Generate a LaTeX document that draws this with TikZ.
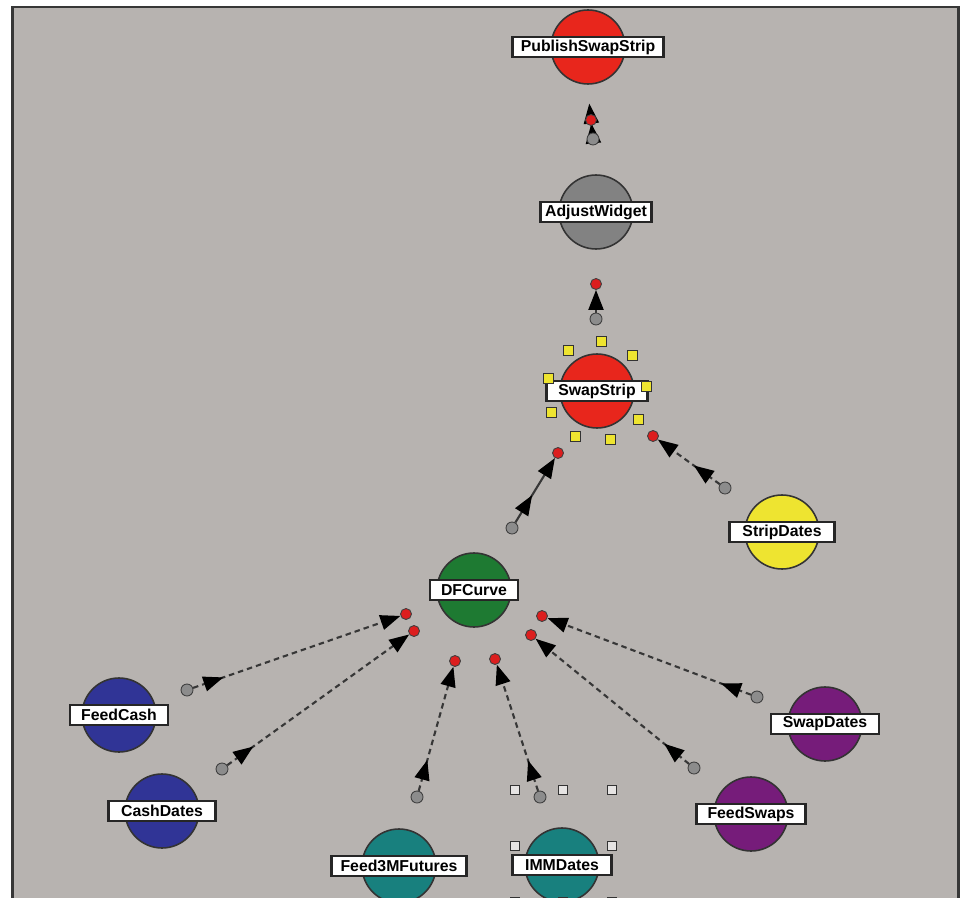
\documentclass[tikz,border=0pt]{standalone}
\usepackage{fontspec}
\setmainfont{Liberation Sans}
\usetikzlibrary{arrows.meta}
\usetikzlibrary{decorations.markings}
\definecolor{canvas}{RGB}{183,179,176}
\definecolor{frame}{RGB}{55,55,55}
\definecolor{task red}{RGB}{232,38,28}
\definecolor{task gray}{RGB}{130,130,130}
\definecolor{task green}{RGB}{30,122,50}
\definecolor{task yellow}{RGB}{238,228,48}
\definecolor{task blue}{RGB}{48,52,150}
\definecolor{task teal}{RGB}{24,128,126}
\definecolor{task purple}{RGB}{118,28,122}
\definecolor{port red}{RGB}{220,30,30}
\definecolor{port gray}{RGB}{140,140,140}
\definecolor{wire}{RGB}{55,55,55}
\pgfdeclarelayer{back}
\pgfdeclarelayer{wires}
\pgfsetlayers{back,wires,main}
\tikzstyle{task}=[circle, draw=black!80, line width=0.9pt, minimum size=1.48cm, inner sep=0]
\tikzstyle{caption}=[draw=black!85, line width=1.3pt, fill=white, minimum height=0.39cm, inner sep=0, font=\bfseries\fontsize{9}{10}\selectfont]
\tikzstyle{in port}=[circle, draw=black!75, line width=0.5pt, fill=port red, minimum size=0.22cm, inner sep=0]
\tikzstyle{out port}=[circle, draw=black!75, line width=0.5pt, fill=port gray, minimum size=0.24cm, inner sep=0]
\tikzstyle{handle}=[draw=black!80, line width=0.5pt, fill=task yellow, minimum size=0.2cm, inner sep=0]
\tikzstyle{hollow handle}=[draw=black!80, line width=0.8pt, fill=white!65!canvas, minimum size=0.18cm, inner sep=0]
\tikzstyle{link}=[draw=wire, line width=1.2pt, dash pattern=on 0.11cm off 0.08cm,
  -{Triangle[length=0.4cm, width=0.3cm, color=black]},
  postaction={decorate}, decoration={markings, mark=at position 0.64cm with {\arrow{Triangle[length=0.4cm, width=0.3cm, color=black]}}}]
\tikzstyle{solid link}=[link, solid]
\tikzstyle{short link}=[draw=wire, line width=1.2pt, shorten >=-0.45cm,
  -{Triangle[length=0.4cm, width=0.3cm, color=black] Triangle[length=0.4cm, width=0.3cm, color=black]}]

\begin{document}
\begin{tikzpicture}[x=0.02cm, y=-0.02cm]
    \useasboundingbox (0,0) rectangle (963,898);
    \clip (0,0) rectangle (963,898);
    \begin{pgfonlayer}{back}
      \fill[white] (0,0) rectangle (963,898);
      \fill[canvas] (12.5,7) rectangle (958.5,910);
      \draw[frame, line width=1.4pt] (12.5,910) -- (12.5,7) -- (958.5,7) -- (958.5,910);
    \end{pgfonlayer}

    \node[task, fill=task red] (publish) at (588,47) {};
    \node[caption, minimum width=3.02cm] (publish_label) at (publish) {PublishSwapStrip};
    \node[task, fill=task gray] (adjust) at (596,212) {};
    \node[caption, minimum width=2.22cm] (adjust_label) at (adjust) {AdjustWidget};
    \node[task, fill=task red] (swap_strip) at (597,391) {};
    \node[caption, minimum width=2.02cm] (swap_strip_label) at (swap_strip) {SwapStrip};
    \node[task, fill=task yellow] (strip_dates) at (782,532) {};
    \node[caption, minimum width=2.10cm] (strip_dates_label) at (strip_dates) {StripDates};
    \node[task, fill=task green] (df_curve) at (474,590) {};
    \node[caption, minimum width=1.76cm] (df_curve_label) at (df_curve) {DFCurve};
    \node[task, fill=task blue] (feed_cash) at (119,715) {};
    \node[caption, minimum width=1.96cm] (feed_cash_label) at (feed_cash) {FeedCash};
    \node[task, fill=task blue] (cash_dates) at (162,811) {};
    \node[caption, minimum width=2.14cm] (cash_dates_label) at (cash_dates) {CashDates};
    \node[task, fill=task teal] (feed_futures) at (399,866) {};
    \node[caption, minimum width=2.70cm] (feed_futures_label) at (feed_futures) {Feed3MFutures};
    \node[task, fill=task teal] (imm_dates) at (562,865) {};
    \node[caption, minimum width=1.98cm] (imm_dates_label) at (imm_dates) {IMMDates};
    \node[task, fill=task purple] (swap_dates) at (825,724) {};
    \node[caption, minimum width=2.16cm] (swap_dates_label) at (swap_dates) {SwapDates};
    \node[task, fill=task purple] (feed_swaps) at (751,814) {};
    \node[caption, minimum width=2.18cm] (feed_swaps_label) at (feed_swaps) {FeedSwaps};

    \foreach \a in {5,45,...,325}
      \node[handle] (swap_strip_handle_\a) at ([shift={(\a:1cm)}]swap_strip) {};
    \foreach \x/\y [count=\i] in {515/790, 563/790, 612/790, 515/846, 612/846, 515/902, 563/902, 612/902}
      \node[hollow handle] (imm_dates_handle_\i) at (\x,\y) {};

    \node[in port] (publish_in) at (591,120) {};
    \node[out port] (adjust_out) at (593,139) {};
    \node[in port] (adjust_in) at (596,284) {};
    \node[out port] (swap_strip_out) at (596,319) {};
    \node[in port] (swap_strip_in_a) at (558,453) {};
    \node[in port] (swap_strip_in_b) at (653,436) {};
    \node[out port] (df_curve_out) at (512,528) {};
    \node[out port] (strip_dates_out) at (725,488) {};
    \node[in port] (df_curve_in_a) at (406,614) {};
    \node[in port] (df_curve_in_b) at (414,631) {};
    \node[in port] (df_curve_in_c) at (455,661) {};
    \node[in port] (df_curve_in_d) at (495,659) {};
    \node[in port] (df_curve_in_e) at (542,616) {};
    \node[in port] (df_curve_in_f) at (531,635) {};
    \node[out port] (feed_cash_out) at (187,690) {};
    \node[out port] (cash_dates_out) at (222,769) {};
    \node[out port] (feed_futures_out) at (417,797) {};
    \node[out port] (imm_dates_out) at (540,797) {};
    \node[out port] (swap_dates_out) at (757,697) {};
    \node[out port] (feed_swaps_out) at (694,768) {};

    \begin{pgfonlayer}{wires}
      \draw[short link] (adjust_out) -- (publish_in);
      \draw[link] (swap_strip_out) -- (adjust_in);
      \draw[solid link] (df_curve_out) -- (swap_strip_in_a);
      \draw[link] (strip_dates_out) -- (swap_strip_in_b);
      \draw[link] (feed_cash_out) -- (df_curve_in_a);
      \draw[link] (cash_dates_out) -- (df_curve_in_b);
      \draw[link] (feed_futures_out) -- (df_curve_in_c);
      \draw[link] (imm_dates_out) -- (df_curve_in_d);
      \draw[link] (swap_dates_out) -- (df_curve_in_e);
      \draw[link] (feed_swaps_out) -- (df_curve_in_f);
    \end{pgfonlayer}
  \end{tikzpicture}
\end{document}
